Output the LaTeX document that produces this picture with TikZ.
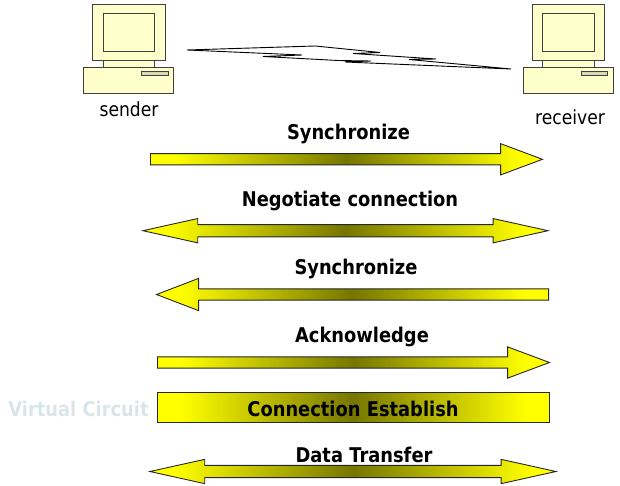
\documentclass[tikz,border=0pt]{standalone}
\usepackage{fontspec}
\setmainfont{DejaVu Sans}[FakeStretch=0.88]
\usepackage{xcolor}
\usetikzlibrary{shapes.arrows}
\definecolor{pcfill}{HTML}{FFFFCC}
\definecolor{glow}{HTML}{FFFF00}
\definecolor{gdark}{HTML}{767600}
\definecolor{vcgray}{HTML}{DAE5E9}
\pgfdeclarehorizontalshading{yelbar}{100bp}{color(0bp)=(glow);color(28bp)=(glow);color(50bp)=(gdark);color(72bp)=(glow);color(100bp)=(glow)}

\begin{document}
\begin{tikzpicture}[x=1pt,y=-1pt,
  pc/.style={draw=black!75,fill=pcfill,line width=0.9pt},
  grad/.style={draw=black!85,line width=0.9pt,shade,shading=yelbar,inner sep=0pt},
  rarr/.style={grad,single arrow,inner ysep=5.2pt,single arrow head extend=#1,anchor=tail},
  darr/.style={grad,double arrow,inner ysep=5.7pt,double arrow head extend=#1,anchor=tip 1},
  lab/.style={font=\fontsize{20.3}{23}\selectfont\bfseries,inner sep=0pt},
  who/.style={font=\fontsize{19.5}{22}\selectfont,inner sep=0pt}]
\useasboundingbox (0,0) rectangle (620,486);
% the two computers
\foreach \dx in {0,439.7}{
  \begin{scope}[shift={(\dx,0)}]
  \draw[pc] (103,60.5) rectangle (154.3,67.5);
  \draw[pc] (92.3,4) rectangle (165,60.5);
  \draw[pc] (103,13.5) rectangle (154.3,51);
  \draw[pc] (83.7,67.5) rectangle (173.7,93.5);
  \draw[pc,fill=pcfill!70!gray] (141.7,71.5) rectangle (168,75);
  \end{scope}
}
\node[who] (sender) at (129,109) {sender};
\node[who] (receiver) at (570,117) {receiver};
% link between them
\draw[line width=0.9pt,line join=miter] (187,50) -- (315,46) -- (380,52.5) -- (353,53.5) -- (436,59)
  -- (409,59.5) -- (511,69) -- (345,62) -- (371,61) -- (338,60.5) -- (263,56.5) -- (302,55) -- cycle;
% messages
\node[rarr=10pt,minimum height=392pt,single arrow tip angle=41] (syn) at (150,159.3) {};
\node[lab] (synl) at (348.5,134) {Synchronize};
\node[darr=6pt,minimum height=405pt,double arrow tip angle=25] (neg) at (550,230.7) {};
\node[lab] (negl) at (350,201) {Negotiate connection};
\node[rarr=10.5pt,minimum height=392pt,single arrow tip angle=42,shape border rotate=180] (syn2) at (549,294.5) {};
\node[lab] (syn2l) at (356,269) {Synchronize};
\node[rarr=10pt,minimum height=392pt,single arrow tip angle=41] (ack) at (157,362.5) {};
\node[lab] (ackl) at (362,337) {Acknowledge};
\node[grad,lab,text height=19pt,text depth=0pt,minimum width=392pt,minimum height=30pt] (conn) at (353,407) {Connection Establish};
\node[lab,text=vcgray] (vc) at (78.5,409) {Virtual Circuit};
\node[darr=6pt,minimum height=406pt,double arrow tip angle=25] (data) at (558,471.5) {};
\node[lab] (datal) at (364,455) {Data Transfer};
\end{tikzpicture}
\end{document}
